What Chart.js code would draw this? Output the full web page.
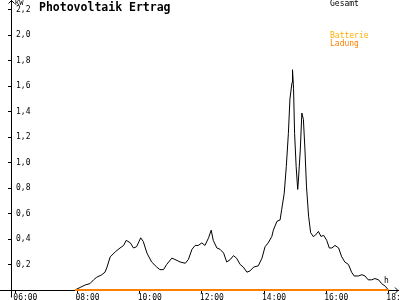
<!DOCTYPE html>
<html>
<head>
<meta charset="utf-8">
<script src="https://cdn.jsdelivr.net/npm/chart.js@4"></script>
<style>
  html, body { margin: 0; padding: 0; background: #fff; }
  #wrap { position: relative; width: 400px; height: 300px; overflow: hidden; }
  #chart { position: absolute; left: 0; top: 0; }
  .txt { position: absolute; font-family: "DejaVu Sans Mono", monospace; font-size: 8px; line-height: 8px; white-space: nowrap; }
  #title { left: 39px; top: 1px; font-size: 11.5px; line-height: 12px; font-weight: bold; color: #000; }
  #unit { left: 15px; top: 0px; font-size: 7px; line-height: 7px; }
  #hour { left: 384px; top: 277px; }
  #lg-gesamt { left: 330px; top: 0px; color: #000; }
  #lg-batt { left: 330px; top: 32px; color: #ffb000; }
  #lg-lad { left: 330px; top: 40px; color: #ff8000; }
</style>
</head>
<body>
<div id="wrap">
  <canvas id="chart" width="400" height="300"></canvas>
  <div class="txt" id="title">Photovoltaik Ertrag</div>
  <div class="txt" id="unit">KW</div>
  <div class="txt" id="hour">h</div>
  <div class="txt" id="lg-gesamt">Gesamt</div>
  <div class="txt" id="lg-batt">Batterie</div>
  <div class="txt" id="lg-lad">Ladung</div>
</div>
<script>
// Gesamt (kW)
const times = ['07:55','08:05','08:15','08:24','08:31','08:37','08:47','08:53','08:57','09:03',
  '09:13','09:22','09:29','09:34','09:42','09:48','09:54','10:02','10:07','10:14',
  '10:23','10:33','10:39','10:46','10:52','11:02','11:08','11:18','11:28','11:34',
  '11:41','11:47','11:53','12:00','12:06','12:13','12:18','12:22','12:29','12:35',
  '12:42','12:48','12:55','13:01','13:07','13:14','13:20','13:27','13:33','13:40',
  '13:49','13:56','14:02','14:08','14:15','14:18','14:25','14:31','14:34','14:39',
  '14:43','14:47','14:50','14:54','14:55','14:57','14:59','15:02','15:05','15:06',
  '15:10','15:13','15:16','15:19','15:22','15:26','15:30','15:35','15:39','15:45',
  '15:50','15:55','16:01','16:06','16:11','16:17','16:24','16:30','16:36','16:43',
  '16:49','16:54','17:02','17:09','17:15','17:21','17:28','17:34','17:41','17:47',
  '17:54','18:00'];
const gesamt = [0,0.02,0.04,0.05,0.08,0.10,0.12,0.14,0.18,0.26,
  0.30,0.33,0.35,0.39,0.37,0.33,0.34,0.41,0.38,0.29,
  0.22,0.18,0.16,0.16,0.20,0.25,0.24,0.22,0.21,0.24,
  0.32,0.35,0.35,0.37,0.35,0.41,0.47,0.39,0.33,0.32,
  0.29,0.22,0.24,0.27,0.25,0.20,0.18,0.14,0.15,0.18,
  0.19,0.25,0.34,0.37,0.42,0.47,0.54,0.55,0.63,0.76,
  0.97,1.23,1.50,1.63,1.73,1.58,1.23,0.97,0.79,0.84,
  1.10,1.39,1.34,1.10,0.81,0.58,0.45,0.42,0.43,0.46,
  0.42,0.43,0.39,0.33,0.33,0.35,0.33,0.26,0.22,0.20,
  0.14,0.11,0.11,0.12,0.11,0.08,0.08,0.09,0.08,0.05,
  0.03,0];

// battery series sit on zero all day
const battTimes = ['07:55','18:00'];
const batterie = [0, 0];
const ladung = [0, 0];

const xTicks = [6, 8, 10, 12, 14, 16, 18];
const yTicks = [0.2, 0.4, 0.6, 0.8, 1.0, 1.2, 1.4, 1.6, 1.8, 2.0, 2.2];

const toHours = t => { const [h, m] = t.split(':').map(Number); return h + m / 60; };
const pts = (ts, vs) => ts.map((t, i) => ({ x: toHours(t), y: vs[i] }));
const pad2 = n => String(n).padStart(2, '0');

// axis arrows + the bits of axis line that stick out past the plot
const axisArrows = {
  id: 'axisArrows',
  afterDraw(chart) {
    const { ctx, chartArea: a } = chart;
    const ax = Math.round(a.left) + 0.5, ay = Math.round(a.bottom) + 0.5;
    ctx.save();
    ctx.strokeStyle = '#000';
    ctx.lineWidth = 1;
    ctx.beginPath();
    ctx.moveTo(ax, 0); ctx.lineTo(ax, ay + 7);
    ctx.moveTo(0, ay); ctx.lineTo(a.left, ay);
    ctx.moveTo(ax - 3, 3.5); ctx.lineTo(ax, 0.5); ctx.lineTo(ax + 3, 3.5);
    ctx.moveTo(a.right, ay); ctx.lineTo(398, ay);
    ctx.moveTo(395, ay - 3); ctx.lineTo(398, ay); ctx.lineTo(395, ay + 3);
    ctx.stroke();
    ctx.restore();
  }
};

const tickFont = { family: '"DejaVu Sans Mono", monospace', size: 8 };

new Chart(document.getElementById('chart'), {
  type: 'line',
  data: {
    datasets: [
      {
        label: 'Ladung',
        data: pts(battTimes, ladung),
        borderColor: '#ff8000',
        borderWidth: 2,
        pointRadius: 0,
        clip: false
      },
      {
        label: 'Batterie',
        data: pts(battTimes, batterie),
        borderColor: '#ffb000',
        borderWidth: 2,
        pointRadius: 0,
        clip: false
      },
      {
        label: 'Gesamt',
        data: pts(times, gesamt),
        borderColor: '#000',
        borderWidth: 1,
        pointRadius: 0,
        tension: 0
      }
    ]
  },
  options: {
    responsive: false,
    animation: false,
    devicePixelRatio: 1,
    layout: { padding: { top: 1, right: 2, left: 0, bottom: 0 } },
    plugins: { legend: { display: false }, tooltip: { enabled: false }, title: { display: false } },
    scales: {
      x: {
        type: 'linear',
        min: 5.86, max: 18.31,
        afterFit: s => { s.height = 10; s.paddingLeft = 0; s.paddingRight = 0; },
        afterBuildTicks: s => { s.ticks = xTicks.map(v => ({ value: v })); },
        border: { display: true, color: '#000', width: 1 },
        grid: { drawOnChartArea: false, drawTicks: true, tickLength: 3, color: '#000' },
        ticks: {
          color: '#000', font: tickFont, padding: 0, align: 'start', labelOffset: -2,
          maxRotation: 0, autoSkip: false,
          callback: v => pad2(v) + ':00'
        }
      },
      y: {
        min: 0, max: 2.27,
        afterFit: s => { s.width = 11; s.paddingTop = 0; s.paddingBottom = 0; },
        afterBuildTicks: s => { s.ticks = yTicks.map(v => ({ value: v })); },
        border: { display: true, color: '#000', width: 1 },
        grid: { drawOnChartArea: false, drawTicks: true, tickLength: 3, color: '#000' },
        ticks: {
          color: '#000', font: tickFont, mirror: true, padding: 5, autoSkip: false,
          callback: v => v.toFixed(1).replace('.', ',')
        }
      }
    }
  },
  plugins: [axisArrows]
});
</script>
</body>
</html>
